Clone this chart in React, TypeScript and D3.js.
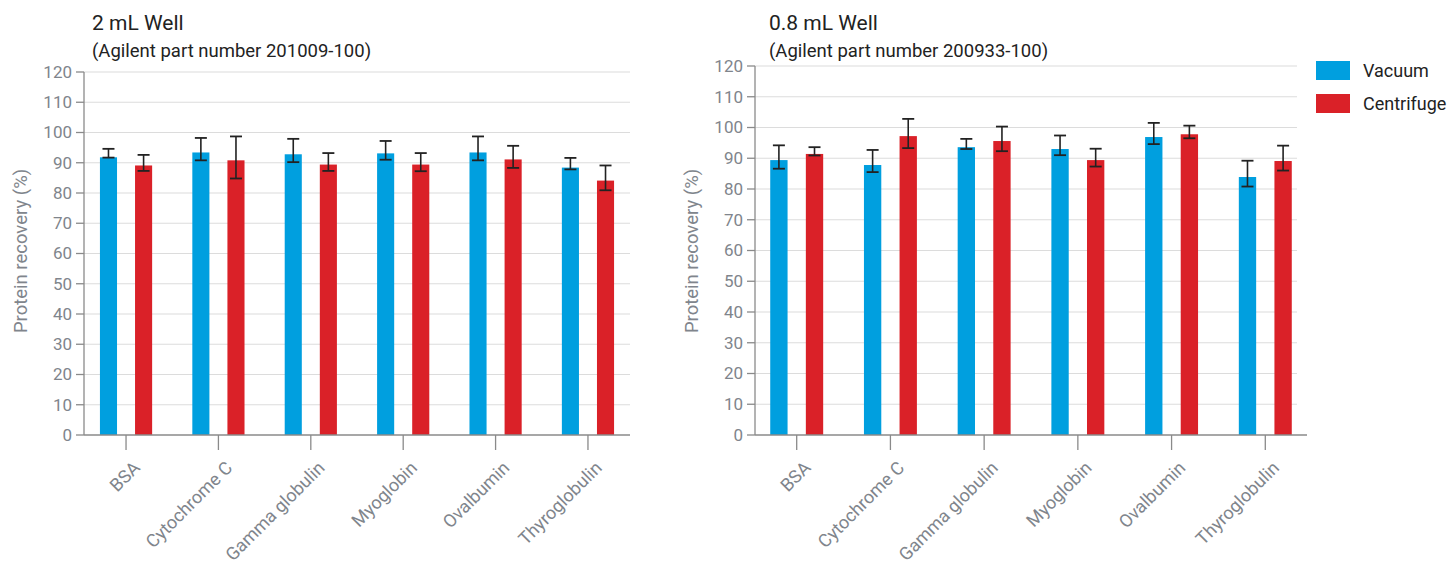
import React from "react";
import * as d3 from "d3";

const categories = ["BSA", "Cytochrome C", "Gamma globulin", "Myoglobin", "Ovalbumin", "Thyroglobulin"];
const seriesNames = ["Vacuum", "Centrifuge"];
const seriesColors = ["#009fdf", "#da2128"];
const yTicks = [0, 10, 20, 30, 40, 50, 60, 70, 80, 90, 100, 110, 120];

// 2 mL well
const well2Vacuum = [91.8, 93.4, 92.8, 93.1, 93.4, 88.4];
const well2VacuumLow = [91.7, 90.8, 90.2, 91.0, 90.8, 87.8];
const well2VacuumHigh = [94.6, 98.2, 97.9, 97.2, 98.7, 91.6];
const well2Centrifuge = [89.1, 90.8, 89.4, 89.4, 91.1, 84.1];
const well2CentrifugeLow = [87.3, 84.8, 87.3, 87.2, 88.3, 80.9];
const well2CentrifugeHigh = [92.6, 98.7, 93.2, 93.2, 95.6, 89.1];

// 0.8 mL well
const well08Vacuum = [89.4, 87.8, 93.6, 93.0, 96.9, 83.9];
const well08VacuumLow = [86.6, 85.5, 93.0, 91.0, 94.6, 80.8];
const well08VacuumHigh = [94.2, 92.7, 96.3, 97.4, 101.5, 89.2];
const well08Centrifuge = [91.4, 97.2, 95.6, 89.4, 97.8, 89.1];
const well08CentrifugeLow = [90.9, 93.3, 92.3, 87.3, 96.5, 86.0];
const well08CentrifugeHigh = [93.6, 102.8, 100.3, 93.1, 100.6, 94.1];

const FONT = "Roboto, 'Noto Sans', sans-serif";

type Series = { values: number[]; low: number[]; high: number[] };

function Panel(props: {
  title: string;
  subtitle: string;
  x0: number;
  x1: number;
  gridEnd: number;
  pad: number;
  yTop: number;
  yBottom: number;
  titleX: number;
  series: Series[];
}) {
  const { title, subtitle, x0, x1, gridEnd, pad, yTop, yBottom, titleX, series } = props;
  const y = d3.scaleLinear().domain([0, 120]).range([yBottom, yTop]);
  const x = d3.scalePoint<string>().domain(categories).range([x0, x1]).padding(pad);
  const step = x.step();
  const barW = step * 0.185;
  const off = step * 0.19;
  const capW = 12;
  return (
    <g>
      <text x={titleX} y={30} fontSize={21} fill="#222" fontFamily={FONT}>{title}</text>
      <text x={titleX} y={57} fontSize={18.5} fill="#222" fontFamily={FONT}>{subtitle}</text>
      {yTicks.filter((t) => t > 0).map((t) => (
        <line key={"g" + t} x1={x0} x2={gridEnd} y1={y(t)} y2={y(t)} stroke="#dcdcdc" strokeWidth={1.2} />
      ))}
      {yTicks.map((t) => (
        <g key={"t" + t}>
          <line x1={x0 - 8} x2={x0} y1={y(t)} y2={y(t)} stroke="#8a8a8a" strokeWidth={1.3} />
          <text x={x0 - 12} y={y(t)} dy="0.35em" textAnchor="end" fontSize={17} fill="#80858c" fontFamily={FONT}>{t}</text>
        </g>
      ))}
      {categories.map((c, i) => {
        const cx = x(c)!;
        return (
          <g key={c}>
            {series.map((s, k) => {
              const center = cx + (k === 0 ? -off : off);
              return (
                <g key={k}>
                  <rect x={center - barW / 2} y={y(s.values[i])} width={barW} height={y(0) - y(s.values[i])} fill={seriesColors[k]} />
                  <line x1={center} x2={center} y1={y(s.low[i])} y2={y(s.high[i])} stroke="#222" strokeWidth={1.6} />
                  <line x1={center - capW / 2} x2={center + capW / 2} y1={y(s.high[i])} y2={y(s.high[i])} stroke="#222" strokeWidth={1.8} />
                  <line x1={center - capW / 2} x2={center + capW / 2} y1={y(s.low[i])} y2={y(s.low[i])} stroke="#222" strokeWidth={1.8} />
                </g>
              );
            })}
            <line x1={cx} x2={cx} y1={yBottom} y2={yBottom + 15} stroke="#8a8a8a" strokeWidth={1.3} />
            <text
              transform={`translate(${cx + 15},${yBottom + 34}) rotate(-45)`}
              textAnchor="end"
              fontSize={18}
              fill="#80858c"
              fontFamily={FONT}
            >
              {c}
            </text>
          </g>
        );
      })}
      <line x1={x0} x2={x0} y1={yTop} y2={yBottom} stroke="#8a8a8a" strokeWidth={1.3} />
      <line x1={x0} x2={x1} y1={yBottom} y2={yBottom} stroke="#8a8a8a" strokeWidth={1.3} />
      <text
        transform={`translate(${x0 - 57},251) rotate(-90)`}
        textAnchor="middle"
        fontSize={18.5}
        fill="#80858c"
        fontFamily={FONT}
      >
        Protein recovery (%)
      </text>
    </g>
  );
}

export default function App() {
  const left: Series[] = [
    { values: well2Vacuum, low: well2VacuumLow, high: well2VacuumHigh },
    { values: well2Centrifuge, low: well2CentrifugeLow, high: well2CentrifugeHigh },
  ];
  const right: Series[] = [
    { values: well08Vacuum, low: well08VacuumLow, high: well08VacuumHigh },
    { values: well08Centrifuge, low: well08CentrifugeLow, high: well08CentrifugeHigh },
  ];
  return (
    <svg width={1452} height={567} style={{ position: "absolute", left: 0, top: 0, background: "#fff" }}>
      <Panel title="2 mL Well" subtitle="(Agilent part number 201009-100)" x0={84} x1={630} gridEnd={630} pad={0.455} yTop={72} yBottom={435} titleX={92} series={left} />
      <Panel title="0.8 mL Well" subtitle="(Agilent part number 200933-100)" x0={755} x1={1307} gridEnd={1297} pad={0.445} yTop={66} yBottom={435} titleX={769} series={right} />
      {seriesNames.map((n, k) => (
        <g key={n}>
          <rect x={1316} y={61 + k * 33} width={34} height={19} fill={seriesColors[k]} />
          <text x={1363} y={77 + k * 33} fontSize={18} fill="#222" fontFamily={FONT}>{n}</text>
        </g>
      ))}
    </svg>
  );
}
